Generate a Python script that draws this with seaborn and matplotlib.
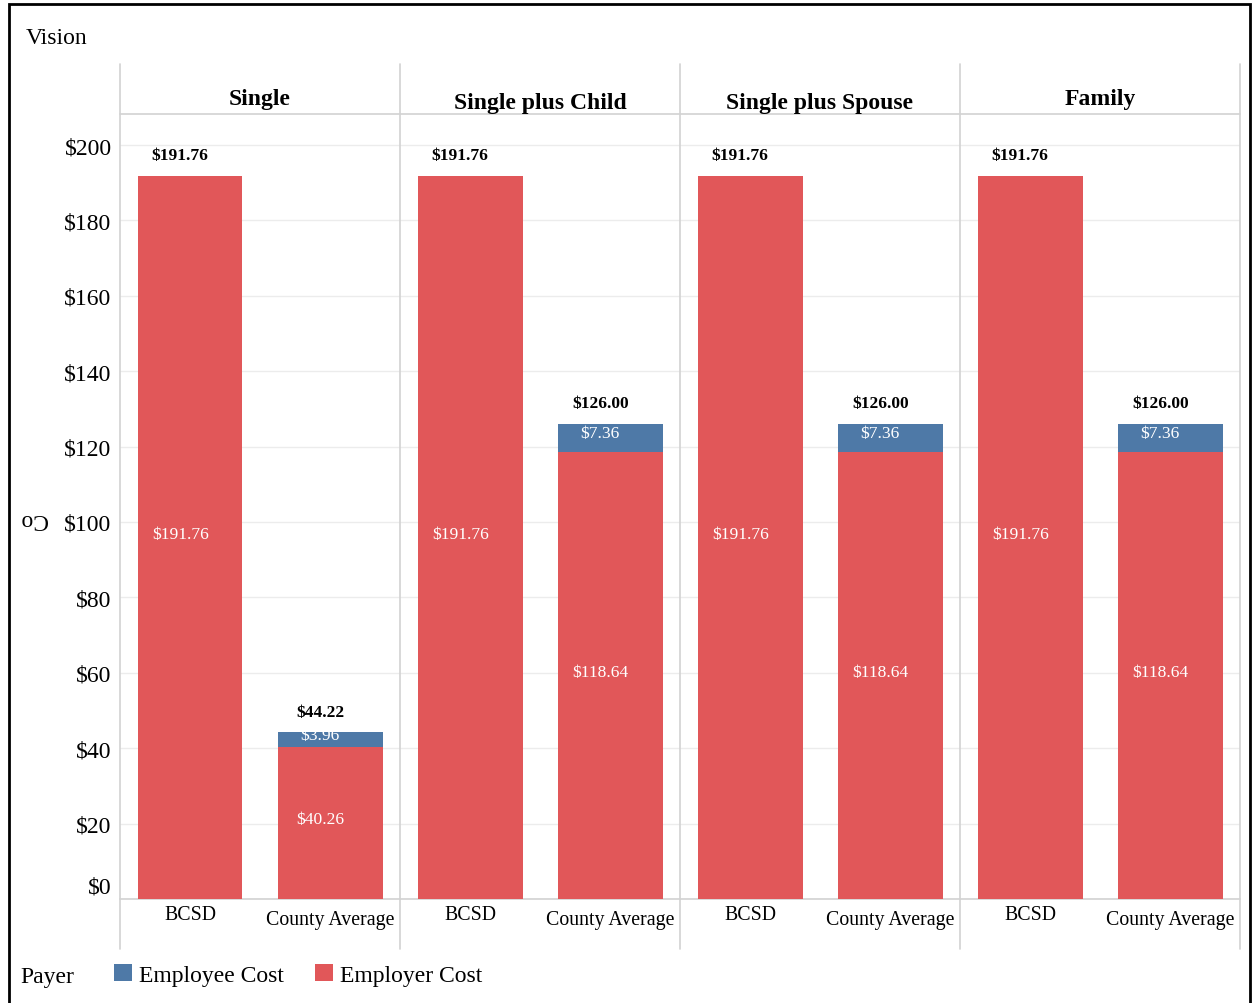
import matplotlib
matplotlib.use("Agg")
import matplotlib.pyplot as plt
import matplotlib.transforms as mtransforms
from matplotlib.lines import Line2D
from matplotlib.patches import Patch, Rectangle
import pandas as pd
import seaborn as sns

# ---- data ----
plan_tiers = ["Single", "Single plus Child", "Single plus Spouse", "Family"]
employers = ["BCSD", "County Average"]
employer_cost = {
    "BCSD": [191.76, 191.76, 191.76, 191.76],
    "County Average": [40.26, 118.64, 118.64, 118.64],
}
employee_cost = {
    "BCSD": [0.0, 0.0, 0.0, 0.0],
    "County Average": [3.96, 7.36, 7.36, 7.36],
}
y_ticks = [0, 20, 40, 60, 80, 100, 120, 140, 160, 180, 200]

rows = []
for i, tier in enumerate(plan_tiers):
    for emp in employers:
        er = employer_cost[emp][i]
        ee = employee_cost[emp][i]
        rows.append({"tier": tier, "employer": emp, "employer_cost": er,
                     "employee_cost": ee, "total": round(er + ee, 2)})
df = pd.DataFrame(rows)

# ---- style ----
sns.set_style("white")
plt.rcParams["font.family"] = ["Liberation Serif", "DejaVu Serif"]
plt.rcParams["text.color"] = "black"
plt.rcParams["xtick.color"] = "black"
plt.rcParams["ytick.color"] = "black"
plt.rcParams["xtick.labelcolor"] = "black"
plt.rcParams["ytick.labelcolor"] = "black"
BLUE = "#4E79A7"
RED = "#E15759"
GRID = "#ececec"
SEP = "#d2d2d2"

W, H = 1254, 1004
fig = plt.figure(figsize=(W / 100, H / 100), dpi=100)


def fx(px):
    return px / W


def fy(py):
    return 1 - py / H


panel_left, panel_w = 120, 280
plot_top, plot_bottom = 115, 900
ymax = 200 * (plot_bottom - plot_top) / (plot_bottom - 146)
header_y = [99, 104, 104, 99]

label_shift = -0.07  # value labels sit slightly left of bar centre

for i, tier in enumerate(plan_tiers):
    sub = df[df["tier"] == tier]
    ax = fig.add_axes([fx(panel_left + panel_w * i), fy(plot_bottom),
                       panel_w / W, (plot_bottom - plot_top) / H])
    # total height in blue, employer share drawn over it in red -> stacked look
    sns.barplot(data=sub, x="employer", y="total", order=employers, color=BLUE,
                saturation=1, width=0.75, errorbar=None, ax=ax, zorder=2)
    sns.barplot(data=sub, x="employer", y="employer_cost", order=employers,
                color=RED, saturation=1, width=0.75, errorbar=None, ax=ax, zorder=3)
    for p in ax.patches:
        p.set_linewidth(0)

    ax.set_xlim(-0.5, 1.5)
    ax.set_ylim(0, ymax)
    ax.set_yticks(y_ticks)
    ax.grid(axis="y", color=GRID, linewidth=1, zorder=0)
    ax.grid(axis="x", visible=False)
    ax.set_axisbelow(True)
    for s in ["top", "left", "right"]:
        ax.spines[s].set_visible(False)
    ax.spines["bottom"].set_color(SEP)
    ax.spines["bottom"].set_linewidth(1.2)
    ax.tick_params(axis="both", length=0)
    ax.set_xlabel("")
    ax.set_ylabel("")

    ax.set_xticks(range(len(employers)))
    ax.set_xticklabels(employers, fontsize=14.3)
    ax.tick_params(axis="x", pad=4)
    xl = ax.get_xticklabels()
    xl[1].set_transform(xl[1].get_transform() +
                        mtransforms.ScaledTranslation(0, -5 / 100, fig.dpi_scale_trans))

    if i == 0:
        ax.set_yticklabels([f"${v}" for v in y_ticks], fontsize=17)
        ax.tick_params(axis="y", pad=6)
        yl = ax.get_yticklabels()
        yl[0].set_transform(yl[0].get_transform() +
                            mtransforms.ScaledTranslation(0, 14 / 100, fig.dpi_scale_trans))
    else:
        ax.set_yticklabels([])

    # value labels
    for j, emp in enumerate(employers):
        r = sub[sub["employer"] == emp].iloc[0]
        x = j + label_shift
        ax.text(x, r["total"] + 5.5, f"${r['total']:.2f}", ha="center", va="center",
                fontsize=12.6, fontweight="bold", color="black", zorder=5)
        ax.text(x, r["employer_cost"] / 2 + 1.0, f"${r['employer_cost']:.2f}",
                ha="center", va="center", fontsize=12.6, color="white", zorder=5)
        if r["employee_cost"] > 0:
            ax.text(x, r["employer_cost"] + r["employee_cost"] / 2 + 1.2,
                    f"${r['employee_cost']:.2f}", ha="center", va="center",
                    fontsize=12.6, color="white", zorder=5)

    # column header
    fig.text(fx(panel_left + panel_w * i + panel_w / 2), fy(header_y[i]), tier,
             ha="center", va="center", fontsize=17, fontweight="bold")

# header / panel separator lines
for k in range(len(plan_tiers) + 1):
    xk = fx(panel_left + panel_w * k)
    fig.add_artist(Line2D([xk, xk], [fy(65), fy(950)], color=SEP, linewidth=1.2))
fig.add_artist(Line2D([fx(panel_left), fx(panel_left + panel_w * 4)], [fy(115), fy(115)],
                      color=SEP, linewidth=1.2))

# sheet title and axis label
fig.text(fx(26), fy(38), "Vision", ha="left", va="center", fontsize=17)
fig.text(fx(33), fy(519), "Co", ha="center", va="center", fontsize=17, rotation=180)

# legend
fig.text(fx(20), fy(978), "Payer", ha="left", va="center", fontsize=17)
handles = [Patch(facecolor=BLUE, edgecolor="none", label="Employee Cost"),
           Patch(facecolor=RED, edgecolor="none", label="Employer Cost")]
fig.legend(handles=handles, loc="center left", bbox_to_anchor=(fx(114), fy(976)),
           ncol=2, frameon=False, fontsize=17, handlelength=0.76, handleheight=0.76,
           handletextpad=0.3, columnspacing=1.3, borderpad=0, borderaxespad=0)

# outer frame
fig.add_artist(Rectangle((fx(9), fy(1010)), fx(1250) - fx(9), fy(5) - fy(1010),
                         fill=False, edgecolor="black", linewidth=2))

fig.savefig("out.png", dpi=100)
